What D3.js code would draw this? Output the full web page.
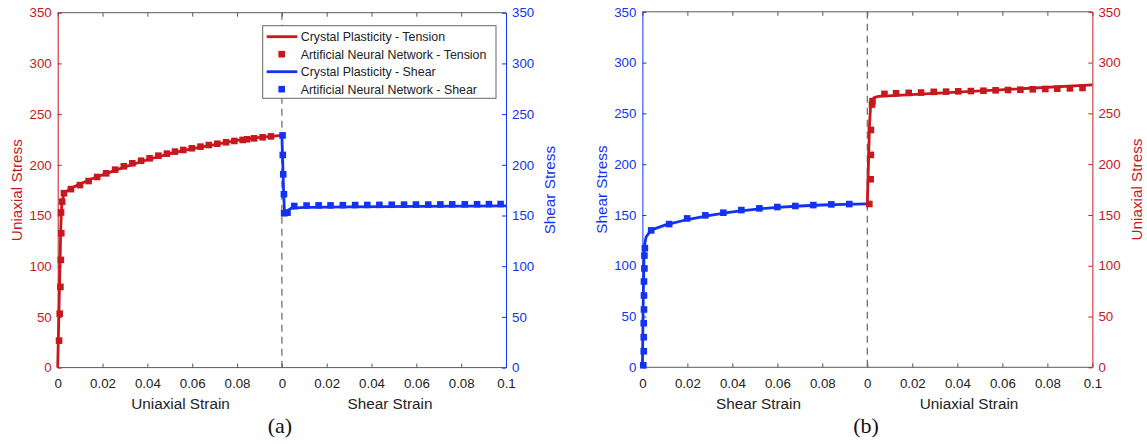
<!DOCTYPE html>
<html>
<head>
<meta charset="utf-8">
<script src="https://cdn.jsdelivr.net/npm/d3@7"></script>
<style>
  body { margin: 0; background: #fff; }
  svg { display: block; font-family: "Liberation Sans", Arial, sans-serif; }
</style>
</head>
<body>
<svg id="chart" width="1147" height="444"></svg>
<script>
// ---- values ----
const stressTicks = [0, 50, 100, 150, 200, 250, 300, 350];
const strainTicks = [0, 0.02, 0.04, 0.06, 0.08];
const strainTicksEnd = [0, 0.02, 0.04, 0.06, 0.08, 0.1];

const legendLabels = [
  "Crystal Plasticity - Tension",
  "Artificial Neural Network - Tension",
  "Crystal Plasticity - Shear",
  "Artificial Neural Network - Shear"
];

// (a) tension first, then shear
const aTensionCpStrain = [0, 0.0008, 0.0014, 0.0018, 0.0024, 0.0035, 0.006, 0.01, 0.015, 0.02, 0.03, 0.04, 0.05, 0.06, 0.07, 0.08, 0.09, 0.1];
const aTensionCpStress = [0, 80, 140, 160, 168, 173, 177, 181, 186, 190, 198, 205, 211, 216, 220, 224, 227, 229];
const aTensionAnnStrain = [0.0006, 0.0009, 0.0012, 0.0014, 0.0016, 0.0015, 0.002, 0.0028, 0.0059, 0.0099, 0.0138, 0.0176, 0.0216, 0.0256, 0.0295, 0.0333, 0.0372, 0.041, 0.0449, 0.0487, 0.0523, 0.056, 0.0598, 0.0637, 0.0674, 0.0712, 0.0751, 0.0788, 0.0825, 0.0845, 0.0876, 0.0914, 0.0951];
const aTensionAnnStress = [26.6, 53.2, 79.6, 106.2, 132.5, 153, 163.7, 172, 176, 180, 184, 188, 191.6, 195.2, 198.5, 201.5, 204, 206.4, 209, 211, 213, 214.6, 216.3, 217.9, 219.5, 220.8, 222.2, 223.5, 224.5, 225.2, 226.1, 227.1, 228];

const aShearCpStrain = [0, 0.0004, 0.0008, 0.0012, 0.002, 0.004, 0.01, 0.03, 0.06, 0.1];
const aShearCpStress = [228, 200, 170, 152, 154, 157, 158, 158.5, 159, 159.5];
const aShearAnnStrain = [0.0003, 0.0004, 0.0006, 0.0009, 0.001, 0.0025, 0.0055, 0.011, 0.0164, 0.0217, 0.0272, 0.0327, 0.0381, 0.0435, 0.049, 0.0545, 0.0598, 0.0653, 0.0707, 0.076, 0.0816, 0.0871, 0.0924, 0.0976];
const aShearAnnStress = [229, 209.7, 190.6, 171, 152.2, 152.8, 159.4, 159.8, 160, 160, 160.2, 160.3, 160.4, 160.5, 160.6, 160.7, 160.8, 160.8, 160.9, 161, 161, 161.1, 161.2, 161.3];

// (b) shear first, then tension
const bShearCpStrain = [0, 0.0004, 0.0007, 0.001, 0.0016, 0.0028, 0.005, 0.01, 0.02, 0.03, 0.04, 0.05, 0.06, 0.07, 0.08, 0.09, 0.1];
const bShearCpStress = [0, 70, 110, 121, 128, 132, 136, 140, 145.5, 149.5, 153, 155.5, 157.5, 158.8, 159.8, 160.4, 160.8];
const bShearAnnStrain = [0.0004, 0.0006, 0.0006, 0.0006, 0.0007, 0.0007, 0.0007, 0.0009, 0.0009, 0.0011, 0.0039, 0.0119, 0.0199, 0.028, 0.036, 0.044, 0.052, 0.06, 0.068, 0.076, 0.084, 0.092];
const bShearAnnStress = [2, 15.8, 29.6, 43.4, 56.9, 70.7, 84.5, 97.3, 110, 117.3, 134.8, 141, 146.6, 149.6, 152.2, 154.8, 156.5, 157.8, 158.8, 159.7, 160.4, 160.7];

const bTensionCpStrain = [0, 0.0005, 0.001, 0.0015, 0.002, 0.003, 0.005, 0.1];
const bTensionCpStress = [160, 200, 240, 258, 263, 265.5, 266.8, 278];
const bTensionAnnStrain = [0.0009, 0.0015, 0.0016, 0.0016, 0.0021, 0.0023, 0.0076, 0.0128, 0.0184, 0.0239, 0.0295, 0.035, 0.0404, 0.046, 0.0516, 0.057, 0.0625, 0.068, 0.0735, 0.0791, 0.0844, 0.09, 0.0956];
const bTensionAnnStress = [160.8, 185.1, 209.1, 233.7, 258.7, 262, 269.2, 269.8, 270.2, 270.5, 271.2, 271.4, 271.7, 272, 272.3, 272.7, 273, 273.3, 273.7, 274, 274.3, 274.6, 275];

const RED = "#c8171d";
const BLUE = "#1233f4";
const GREY = "#5a5a5a";

const svg = d3.select("#chart");

function styleAxis(g, color) {
  g.selectAll("text").attr("fill", color).attr("font-size", 13.3).attr("font-family", null);
  g.selectAll("line").attr("stroke", color);
  g.selectAll("path").attr("stroke", color);
  g.attr("font-family", null);
}

function drawPanel(p) {
  const g = svg.append("g");
  const y = d3.scaleLinear().domain([0, 350]).range([p.bottom, p.top]);
  const xA = d3.scaleLinear().domain([0, 0.1]).range([p.left, p.mid]);
  const xB = d3.scaleLinear().domain([0, 0.1]).range([p.mid, p.right]);

  // bottom and top axes, ticks pointing inwards
  [[xA, strainTicks], [xB, strainTicksEnd]].forEach(([x, ticks]) => {
    g.append("g")
      .attr("transform", `translate(0,${p.bottom})`)
      .call(d3.axisBottom(x).tickValues(ticks).tickSizeInner(-4).tickSizeOuter(0)
        .tickPadding(11).tickFormat(d => String(d)))
      .call(a => a.select(".domain").remove())
      .call(a => styleAxis(a, GREY))
      .call(a => a.selectAll("text").attr("fill", "#222"));
    g.append("g")
      .attr("transform", `translate(0,${p.top})`)
      .call(d3.axisTop(x).tickValues(ticks).tickSizeInner(-4).tickSizeOuter(0).tickFormat(""))
      .call(a => a.select(".domain").remove())
      .call(a => styleAxis(a, GREY));
  });
  g.append("line").attr("x1", p.left).attr("x2", p.right).attr("y1", p.bottom).attr("y2", p.bottom)
    .attr("stroke", GREY);
  g.append("line").attr("x1", p.left).attr("x2", p.right).attr("y1", p.top).attr("y2", p.top)
    .attr("stroke", GREY);

  // left and right stress axes
  g.append("g")
    .attr("transform", `translate(${p.left},0)`)
    .call(d3.axisLeft(y).tickValues(stressTicks).tickSizeInner(-4).tickSizeOuter(0).tickPadding(6))
    .call(a => styleAxis(a, p.leftColor));
  g.append("g")
    .attr("transform", `translate(${p.right},0)`)
    .call(d3.axisRight(y).tickValues(stressTicks).tickSizeInner(-4).tickSizeOuter(0).tickPadding(6))
    .call(a => styleAxis(a, p.rightColor));

  // dashed separator
  g.append("line").attr("x1", p.mid).attr("x2", p.mid).attr("y1", p.top).attr("y2", p.bottom)
    .attr("stroke", "#666").attr("stroke-width", 1.2).attr("stroke-dasharray", "7,5");

  // curves
  p.series.forEach(s => {
    const x = s.section === 0 ? xA : xB;
    const line = d3.line().x(d => x(d[0])).y(d => y(d[1]));
    g.append("path")
      .datum(d3.zip(s.cpStrain, s.cpStress))
      .attr("d", line)
      .attr("fill", "none")
      .attr("stroke", s.color)
      .attr("stroke-width", 2.8)
      .attr("stroke-linejoin", "round");
  });
  p.series.forEach(s => {
    const x = s.section === 0 ? xA : xB;
    g.append("g").selectAll("rect")
      .data(d3.zip(s.annStrain, s.annStress))
      .enter()
      .append("rect")
      .attr("x", d => x(d[0]) - 3.3)
      .attr("y", d => y(d[1]) - 3.3)
      .attr("width", 6.6)
      .attr("height", 6.6)
      .attr("fill", s.color);
  });

  // axis titles
  g.append("text")
    .attr("transform", `translate(${p.leftTitleX},${(p.top + p.bottom) / 2}) rotate(-90)`)
    .attr("text-anchor", "middle").attr("dy", "0.35em")
    .attr("font-size", 15.3).attr("fill", p.leftColor).text(p.leftTitle);
  g.append("text")
    .attr("transform", `translate(${p.rightTitleX},${(p.top + p.bottom) / 2}) rotate(-90)`)
    .attr("text-anchor", "middle").attr("dy", "0.35em")
    .attr("font-size", 15.3).attr("fill", p.rightColor).text(p.rightTitle);
  p.xTitles.forEach(([label, cx]) => {
    g.append("text").attr("x", cx).attr("y", 404).attr("dy", "0.35em")
      .attr("text-anchor", "middle").attr("font-size", 15.3).attr("fill", "#222").text(label);
  });
  g.append("text").attr("x", p.tagX).attr("y", 433)
    .attr("text-anchor", "middle").attr("font-size", 22)
    .attr("font-family", "'Liberation Serif','Times New Roman',serif")
    .attr("fill", "#111").text(p.tag);

  return g;
}

const gA = drawPanel({
  left: 57.7, mid: 281.9, right: 506, top: 12.7, bottom: 367.6,
  leftColor: RED, rightColor: BLUE,
  leftTitle: "Uniaxial Stress", leftTitleX: 17,
  rightTitle: "Shear Stress", rightTitleX: 549.5,
  xTitles: [["Uniaxial Strain", 180.5], ["Shear Strain", 390]],
  tag: "(a)", tagX: 280,
  series: [
    { section: 0, color: RED, cpStrain: aTensionCpStrain, cpStress: aTensionCpStress,
      annStrain: aTensionAnnStrain, annStress: aTensionAnnStress },
    { section: 1, color: BLUE, cpStrain: aShearCpStrain, cpStress: aShearCpStress,
      annStrain: aShearAnnStrain, annStress: aShearAnnStress }
  ]
});

drawPanel({
  left: 642.4, mid: 867.3, right: 1092.4, top: 11.8, bottom: 367.3,
  leftColor: BLUE, rightColor: RED,
  leftTitle: "Shear Stress", leftTitleX: 602,
  rightTitle: "Uniaxial Stress", rightTitleX: 1136.5,
  xTitles: [["Shear Strain", 758.5], ["Uniaxial Strain", 969]],
  tag: "(b)", tagX: 866,
  series: [
    { section: 0, color: BLUE, cpStrain: bShearCpStrain, cpStress: bShearCpStress,
      annStrain: bShearAnnStrain, annStress: bShearAnnStress },
    { section: 1, color: RED, cpStrain: bTensionCpStrain, cpStress: bTensionCpStress,
      annStrain: bTensionAnnStrain, annStress: bTensionAnnStress }
  ]
});

// legend in panel (a)
const legendColors = [RED, RED, BLUE, BLUE];
const legend = gA.append("g").attr("transform", "translate(262.7,25.7)");
legend.append("rect").attr("width", 233.3).attr("height", 72.6)
  .attr("fill", "#fff").attr("stroke", "#666").attr("stroke-width", 1);
legendLabels.forEach((label, i) => {
  const row = legend.append("g").attr("transform", `translate(0,${11 + i * 17.5})`);
  if (i % 2 === 0) {
    row.append("line").attr("x1", 4).attr("x2", 34.6).attr("stroke", legendColors[i]).attr("stroke-width", 2.8);
  } else {
    row.append("rect").attr("x", 19 - 3.3).attr("y", -3.3).attr("width", 6.6).attr("height", 6.6)
      .attr("fill", legendColors[i]);
  }
  row.append("text").attr("x", 38).attr("dy", "0.35em").attr("font-size", 12.4)
    .attr("fill", "#222").text(label);
});
</script>
</body>
</html>
